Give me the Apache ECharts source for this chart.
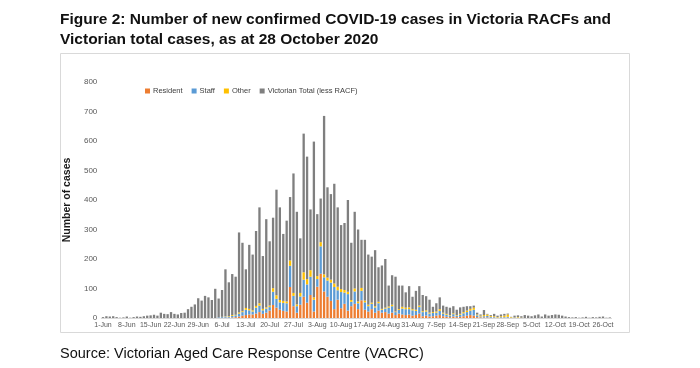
<!DOCTYPE html>
<html>
<head>
<meta charset="utf-8">
<script src="https://cdn.jsdelivr.net/npm/echarts@6/dist/echarts.min.js"></script>
<style>
html,body{margin:0;padding:0;background:#fff;}
#chart{width:700px;height:368px;}
</style>
</head>
<body>
<div id="chart"></div>
<script>
var categories = [
'1-Jun','2-Jun','3-Jun','4-Jun','5-Jun','6-Jun','7-Jun','8-Jun','9-Jun','10-Jun','11-Jun','12-Jun','13-Jun','14-Jun','15-Jun','16-Jun','17-Jun','18-Jun','19-Jun','20-Jun','21-Jun','22-Jun','23-Jun','24-Jun','25-Jun','26-Jun','27-Jun','28-Jun','29-Jun','30-Jun',
'1-Jul','2-Jul','3-Jul','4-Jul','5-Jul','6-Jul','7-Jul','8-Jul','9-Jul','10-Jul','11-Jul','12-Jul','13-Jul','14-Jul','15-Jul','16-Jul','17-Jul','18-Jul','19-Jul','20-Jul','21-Jul','22-Jul','23-Jul','24-Jul','25-Jul','26-Jul','27-Jul','28-Jul','29-Jul','30-Jul','31-Jul',
'1-Aug','2-Aug','3-Aug','4-Aug','5-Aug','6-Aug','7-Aug','8-Aug','9-Aug','10-Aug','11-Aug','12-Aug','13-Aug','14-Aug','15-Aug','16-Aug','17-Aug','18-Aug','19-Aug','20-Aug','21-Aug','22-Aug','23-Aug','24-Aug','25-Aug','26-Aug','27-Aug','28-Aug','29-Aug','30-Aug','31-Aug',
'1-Sep','2-Sep','3-Sep','4-Sep','5-Sep','6-Sep','7-Sep','8-Sep','9-Sep','10-Sep','11-Sep','12-Sep','13-Sep','14-Sep','15-Sep','16-Sep','17-Sep','18-Sep','19-Sep','20-Sep','21-Sep','22-Sep','23-Sep','24-Sep','25-Sep','26-Sep','27-Sep','28-Sep','29-Sep','30-Sep',
'1-Oct','2-Oct','3-Oct','4-Oct','5-Oct','6-Oct','7-Oct','8-Oct','9-Oct','10-Oct','11-Oct','12-Oct','13-Oct','14-Oct','15-Oct','16-Oct','17-Oct','18-Oct','19-Oct','20-Oct','21-Oct','22-Oct','23-Oct','24-Oct','25-Oct','26-Oct','27-Oct','28-Oct'
];

var resident = [
0,0,0,0,0,0,0,0,0,0, 0,0,0,0,0,0,0,0,0,0, 0,0,0,0,0,0,0,0,0,0, 0,0,0,0,
0,0,1,1,2,3,5,8,10,12, 12,15,20,14,18,25,44,35,28,24, 22,105,40,18,45,72,52,78,22,106,
150,90,72,58,30,62,33,48,25,40, 48,30,60,28,22,30,18,25,18,20, 15,18,10,15,12,10,12,8,10,15,
6,8,5,6,8,10,6,4,3,5, 3,4,6,8,10,8,3,2,2,2, 1,1,0,1,1,1,0,0,0,0,
0,0,0,0,0,0,0,0,0,0, 0,0,0,0,0,0,0,0,0,0, 0,0,0,0,0,0
];

var staff = [
0,0,0,0,0,0,0,0,0,0, 0,0,0,0,0,0,0,0,0,0, 0,0,0,0,0,0,0,0,0,0, 0,0,0,0,
2,3,4,3,5,6,10,12,18,14, 10,20,22,12,14,12,45,30,25,27, 28,72,35,22,28,58,62,62,40,26,
93,48,55,62,75,32,55,38,56,15, 42,20,32,25,18,18,18,25,10,12, 20,22,10,12,20,20,18,18,14,22,
14,14,10,11,10,14,9,7,5,8, 5,7,10,12,15,20,6,3,4,5, 3,2,1,2,2,3,1,1,1,0,
0,0,0,0,0,0,0,0,0,0, 0,0,0,0,0,0,0,0,0,0, 0,0,0,0,0,0
];

var other = [
0,0,0,0,0,0,0,0,0,0, 0,0,0,0,0,0,0,0,0,0, 0,0,0,0,0,0,0,0,0,0, 0,0,0,0,
0,1,1,2,3,2,4,3,6,5, 4,6,8,5,4,5,12,12,8,7, 6,18,10,6,12,25,18,22,8,10,
14,10,10,10,12,12,10,9,8,6, 10,6,10,6,5,4,4,5,3,3, 4,5,2,3,6,5,6,4,4,5,
3,4,3,3,4,6,3,3,2,3, 2,3,4,5,6,7,3,3,4,5, 3,3,2,3,5,8,2,1,2,1,
0,0,0,0,0,0,0,0,0,0, 0,0,0,0,0,0,0,0,0,0, 0,0,0,0,0,0
];

var vicLessRacf = [
3,6,5,6,3,1,2,5,1,3, 5,4,6,8,9,11,8,18,14,13, 20,14,12,17,18,30,38,46,67,59, 75,70,61,99,
64,91,159,115,139,129,271,232,131,217, 189,254,325,179,299,218,239,358,314,227, 274,215,405,314,185,470,415,206,528,210,
148,537,306,290,338,269,217,227,311,194, 260,244,163,206,170,156,190,117,147,165, 71,100,118,80,72,52,72,42,64,66,
55,48,44,18,28,40,24,24,25,24, 18,22,18,15,9,7,6,4,17,2, 3,8,5,6,6,3,1,6,6,5,
10,8,6,9,12,5,12,8,10,12, 11,8,5,3,2,3,1,2,4,1, 3,2,4,5,1,2
];

var seriesNames = ['Resident','Staff','Other','Victorian Total (less RACF)'];
var seriesColors = ['#ED7D31','#5B9BD5','#FFC000','#7F7F7F'];
var yTicks = [0,100,200,300,400,500,600,700,800];

var chart = echarts.init(document.getElementById('chart'), null, {renderer:'canvas'});
var dataSets = [resident, staff, other, vicLessRacf];
var series = dataSets.map(function(d,i){
  return {
    name: seriesNames[i], type:'bar', stack:'total', data:d,
    barCategoryGap:'32%',
    itemStyle:{color:seriesColors[i]},
    emphasis:{disabled:true}, animation:false
  };
});

chart.setOption({
  animation:false,
  textStyle:{fontFamily:'Liberation Sans, Arial, sans-serif'},
  title:[{
    text:'Figure 2: Number of new confirmed COVID-19 cases in Victoria RACFs and\nVictorian total cases, as at 28 October 2020',
    left:55, top:5,
    textStyle:{fontSize:15.5, fontWeight:'bold', color:'#111', lineHeight:20, fontFamily:'Liberation Sans, Arial, sans-serif'}
  },{
    text:'Source: Victorian Aged Care Response Centre (VACRC)',
    left:55, top:341,
    textStyle:{fontSize:14.5, fontWeight:'normal', color:'#111', fontFamily:'Liberation Sans, Arial, sans-serif'}
  }],
  graphic:[{
    type:'rect', shape:{x:60.5,y:53.5,width:569,height:279},
    style:{fill:'none', stroke:'#D9D9D9', lineWidth:1}, silent:true, z:-1
  }],
  legend:{
    data:seriesNames, left:140, top:82,
    icon:'rect', itemWidth:5, itemHeight:5, itemGap:9,
    textStyle:{fontSize:7.5, color:'#404040', padding:[0,0,0,-2]}
  },
  grid:{left:101.3, right:88.5, top:82, bottom:50, containLabel:false},
  xAxis:{
    type:'category', data:categories,
    axisLine:{lineStyle:{color:'#D9D9D9'}},
    axisTick:{show:false},
    axisLabel:{interval:6, fontSize:7, color:'#595959', margin:4}
  },
  yAxis:{
    type:'value', min:yTicks[0], max:yTicks[yTicks.length-1], interval:100,
    name:'Number of cases', nameLocation:'middle', nameRotate:90, nameGap:25,
    nameTextStyle:{fontSize:10.5, fontWeight:'bold', color:'#1a1a1a'},
    axisLine:{show:false}, axisTick:{show:false},
    splitLine:{show:false},
    axisLabel:{fontSize:8, color:'#595959', margin:4}
  },
  series:series
});
</script>
</body>
</html>
